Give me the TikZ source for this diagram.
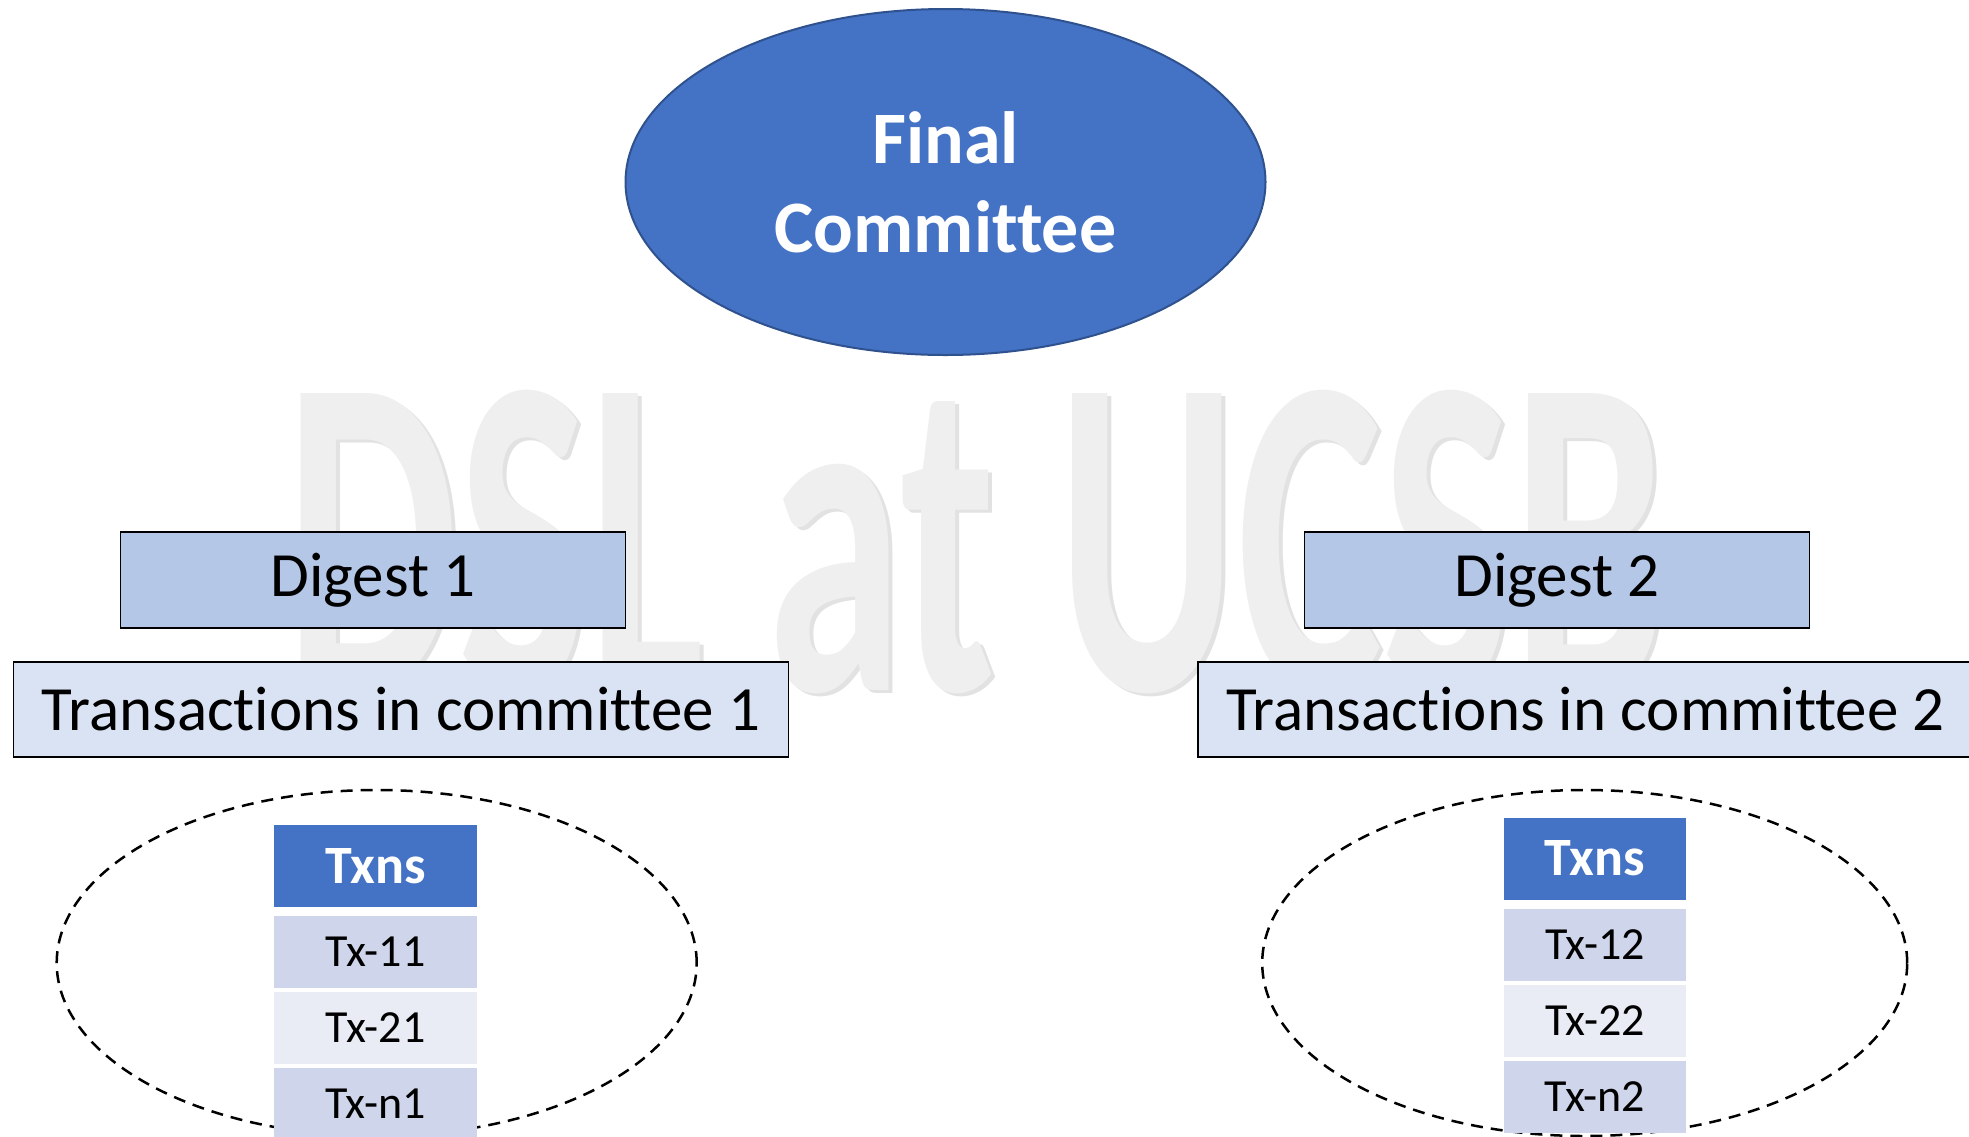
\documentclass[tikz,border=0pt]{standalone}
\usepackage{fontspec}
\setmainfont[Ligatures=NoCommon]{Carlito}
\usetikzlibrary{shapes.geometric,positioning}
\definecolor{accblue}{HTML}{4472C4}
\definecolor{accedge}{HTML}{2F528F}
\definecolor{digfill}{HTML}{B4C7E7}
\definecolor{txfill}{HTML}{DAE3F3}
\definecolor{rowdark}{HTML}{CFD5EA}
\definecolor{rowlight}{HTML}{E9EBF5}
\definecolor{wmark}{HTML}{EFEFEF}
\definecolor{wshade}{HTML}{E2E2E2}
\begin{document}
\begin{tikzpicture}[x=1pt, y=-1pt, line width=1.5pt,
  wmtext/.style={anchor=base, xscale=0.6, font=\fontsize{458}{458}\bfseries\selectfont},
  digbox/.style={draw, fill=digfill, minimum width=505pt, minimum height=96pt, font=\fontsize{63}{75}\selectfont},
  txbox/.style={draw, fill=txfill, minimum width=775pt, minimum height=95pt, font=\fontsize{63}{75}\selectfont},
  group/.style={ellipse, draw, line width=2.5pt, dash pattern=on 12pt off 8pt, minimum width=640pt, minimum height=346pt, inner sep=0pt},
  hdcell/.style={fill=accblue, text=white, minimum height=82pt, inner sep=0pt, outer sep=0pt, font=\fontsize{54}{64}\bfseries\selectfont},
  tcell/.style={minimum height=72pt, inner sep=0pt, outer sep=0pt, font=\fontsize{46}{55}\selectfont}]
\useasboundingbox (0,0) rectangle (1969,1136);

\node[wmtext, text=wshade] (wmshade) at (980,693) {DSL at UCSB};
\node[wmtext, text=wmark] (wm) at (976,690) {DSL at UCSB};

\node[ellipse, fill=accblue, draw=accedge, line width=2pt, minimum width=640pt, minimum height=346pt, text=white, align=center, font=\fontsize{74}{89}\bfseries\selectfont] (final) at (945.5,182) {Final\\Committee};

\node[digbox] (dig1) at (373,580) {Digest 1};
\node[txbox] (tx1) at (401,709.5) {Transactions in committee 1};
\node[digbox] (dig2) at (1557,580) {Digest 2};
\node[txbox] (tx2) at (1585.5,709.5) {Transactions in committee 2};

\node[group] (grp1) at (376.7,963) {};
\node[group, minimum width=645pt] (grp2) at (1584.7,963) {};

\node[hdcell, minimum width=203pt] (hd1) at (375.5,866) {Txns};
\node[tcell, fill=rowdark, minimum width=203pt, below=9pt of hd1] (tx11) {Tx-11};
\node[tcell, fill=rowlight, minimum width=203pt, below=4pt of tx11] (tx21) {Tx-21};
\node[tcell, fill=rowdark, minimum width=203pt, below=4pt of tx21] (txn1) {Tx-n1};

\node[hdcell, minimum width=182pt] (hd2) at (1595,858.5) {Txns};
\node[tcell, fill=rowdark, minimum width=182pt, below=9pt of hd2] (tx12) {Tx-12};
\node[tcell, fill=rowlight, minimum width=182pt, below=4pt of tx12] (tx22) {Tx-22};
\node[tcell, fill=rowdark, minimum width=182pt, below=4pt of tx22] (txn2) {Tx-n2};
\end{tikzpicture}
\end{document}
